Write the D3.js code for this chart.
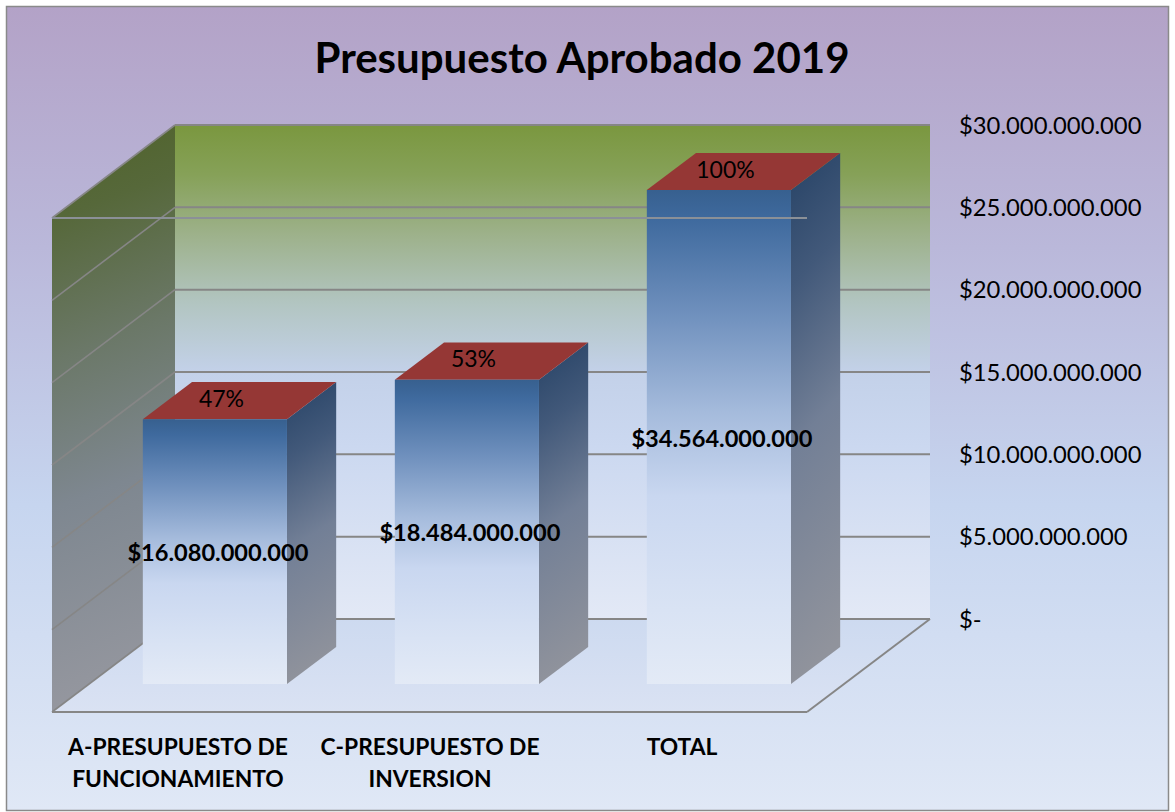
<!DOCTYPE html>
<html><head><meta charset="utf-8">
<script src="https://cdn.jsdelivr.net/npm/d3@7/dist/d3.min.js"></script>
<style>html,body{margin:0;padding:0;background:#fff}svg{display:block}text{font-family:Lato,"Open Sans",sans-serif;fill:#000}</style>
</head><body><svg id="c" width="1175" height="812"></svg>
<script>
const title = "Presupuesto Aprobado 2019";
const categories = ["A-PRESUPUESTO DE FUNCIONAMIENTO", "C-PRESUPUESTO DE INVERSION", "TOTAL"];
const categoryLines = [["A-PRESUPUESTO DE", "FUNCIONAMIENTO"], ["C-PRESUPUESTO DE", "INVERSION"], ["TOTAL"]];
const values = [16080000000, 18484000000, 34564000000];
const percents = ["47%", "53%", "100%"];
const axisMax = 30000000000;
const tickValues = [0, 5e9, 10e9, 15e9, 20e9, 25e9, 30e9];

const W = 1175, H = 812;
const svg = d3.select("#c");
const defs = svg.append("defs");
function grad(id, stops, x1=0, y1=0, x2=0, y2=1){
  const g = defs.append("linearGradient").attr("id", id)
    .attr("x1",x1).attr("y1",y1).attr("x2",x2).attr("y2",y2);
  stops.forEach(s => g.append("stop").attr("offset",s[0]).attr("stop-color",s[1]));
}
grad("bg", [[0,"#b3a2c7"],[.3,"#bab8da"],[.62,"#c6d5ef"],[1,"#e0e8f6"]]);
grad("back", [[0,"#7a973f"],[.1,"#86a158"],[.22,"#9db18a"],[.36,"#b2c5c1"],[.5,"#c3d1e9"],[.65,"#cbd8f0"],[1,"#e3e9f6"]]);
grad("side", [[0,"#4f6228"],[.16,"#56683a"],[.4,"#6b7868"],[.65,"#7e8790"],[1,"#95979f"]], 0,0,.08,1);
grad("floor", [[0,"#cddaf0"],[1,"#dae2f3"]]);
grad("barFront", [[0,"#37608f"],[.06,"#3f6a9e"],[.25,"#6f90bd"],[.45,"#a5bbdc"],[.62,"#c9d7f0"],[.85,"#d9e3f4"],[1,"#e3eaf6"]]);
grad("barSide", [[0,"#264265"],[.25,"#42597a"],[.55,"#727f96"],[1,"#90939c"]], 0,0,.1,1);

// frame
const frame = {x:6.5, y:6.5, w:1162, h:804};
svg.append("rect").attr("width",W).attr("height",H).attr("fill","#fff");
svg.append("rect").attr("x",frame.x).attr("y",frame.y).attr("width",frame.w).attr("height",frame.h)
  .attr("fill","url(#bg)").attr("stroke","#8a8a8a").attr("stroke-width",1.5);

// projection: front-plane x, value, depth z (0 front, 1 back)
const plotLeft = 52, plotRight = 807, depthX = 123, depthY = 93;
const y = d3.scaleLinear().domain([0, axisMax]).range([619, 125]);
const x = d3.scaleBand().domain(categories).range([0, plotRight - plotLeft + 1]).paddingInner(.428).paddingOuter(.214);
const px = (fx, z) => plotLeft + fx + depthX * z;
const py = (v, z) => y(v) + depthY * (1 - z);
const P = (fx, v, z) => [px(fx, z), py(v, z)];
const poly = pts => pts.map(p => p.join(",")).join(" ");
const span = plotRight - plotLeft;
const lineCol = "#868686";

// walls
svg.append("polygon").attr("points", poly([P(0,axisMax,1),P(span,axisMax,1),P(span,0,1),P(0,0,1)])).attr("fill","url(#back)");
svg.append("polygon").attr("points", poly([P(0,axisMax,0),P(0,axisMax,1),P(0,0,1),P(0,0,0)])).attr("fill","url(#side)");
svg.append("polygon").attr("points", poly([P(0,0,0),P(0,0,1),P(span,0,1),P(span,0,0)])).attr("fill","url(#floor)");

// gridlines
const grid = svg.append("g").attr("fill","none").attr("stroke",lineCol);
tickValues.forEach(v => {
  grid.append("line").attr("x1",px(0,1)).attr("x2",px(span,1)).attr("y1",py(v,1)).attr("y2",py(v,1)).attr("stroke-width",2);
  grid.append("line").attr("x1",px(0,0)).attr("x2",px(0,1)).attr("y1",py(v,0)).attr("y2",py(v,1)).attr("stroke-width",1.6);
});
grid.append("line").attr("x1",px(0,0)).attr("y1",py(0,0)).attr("x2",px(span,0)).attr("y2",py(0,0)).attr("stroke-width",2);
grid.append("line").attr("x1",px(span,0)).attr("y1",py(0,0)).attr("x2",px(span,1)).attr("y2",py(0,1)).attr("stroke-width",2);

// bars
const zF = .3, zB = .7;
categories.forEach((c,i) => {
  const a = x(c), b = a + x.bandwidth(), v = Math.min(values[i], axisMax);
  const g = svg.append("g");
  g.append("polygon").attr("points", poly([P(b,v,zF),P(b,v,zB),P(b,0,zB),P(b,0,zF)])).attr("fill","url(#barSide)");
  g.append("polygon").attr("points", poly([P(a,v,zF),P(a,v,zB),P(b,v,zB),P(b,v,zF)])).attr("fill","#953735");
  g.append("polygon").attr("points", poly([P(a,v,zF),P(b,v,zF),P(b,0,zF),P(a,0,zF)])).attr("fill","url(#barFront)");
});

// front top line drawn over the bars
svg.append("line").attr("x1",px(0,0)).attr("x2",px(span,0)).attr("y1",py(axisMax,0)).attr("y2",py(axisMax,0))
  .attr("stroke","#8b9097").attr("stroke-width",2);

// title
svg.append("text").attr("x",582).attr("y",73).attr("text-anchor","middle")
  .style("font-size","42px").style("font-weight",700).text(title);

// value axis
const loc = d3.formatLocale({decimal:",", thousands:".", grouping:[3], currency:["$",""]});
const fmt = loc.format("$,");
const axisG = svg.append("g").attr("transform",`translate(${px(span,1)},1)`)
  .call(d3.axisRight(y).tickValues(tickValues).tickSize(0).tickPadding(29).tickFormat(v => v === 0 ? "$-" : fmt(v)));
axisG.select(".domain").remove();
axisG.selectAll("text").style("font-size","23.8px").style("font-family",'Lato,sans-serif').attr("dy","0.3em");

// category labels
categories.forEach((c,i) => {
  const cx = px(x(c) + x.bandwidth()/2, 0);
  categoryLines[i].forEach((t,j) => {
    svg.append("text").attr("x",cx).attr("y",755 + j*32).attr("text-anchor","middle")
      .style("font-size","22.8px").style("font-weight",700).text(t);
  });
});

// data labels
categories.forEach((c,i) => {
  const a = x(c), bw = x.bandwidth(), v = Math.min(values[i], axisMax);
  const cx = px(a + bw/2, zF);
  svg.append("text").attr("x",cx+3).attr("y",(py(v,zF)+py(0,zF))/2 + 9.5).attr("text-anchor","middle")
    .style("font-size","23.6px").style("font-weight",700).text(fmt(values[i]));
  svg.append("text").attr("x",px(a+bw/2,.5)-18).attr("y",py(v,.5)+6).attr("text-anchor","middle")
    .style("font-size","23px").text(percents[i]);
});
</script></body></html>
